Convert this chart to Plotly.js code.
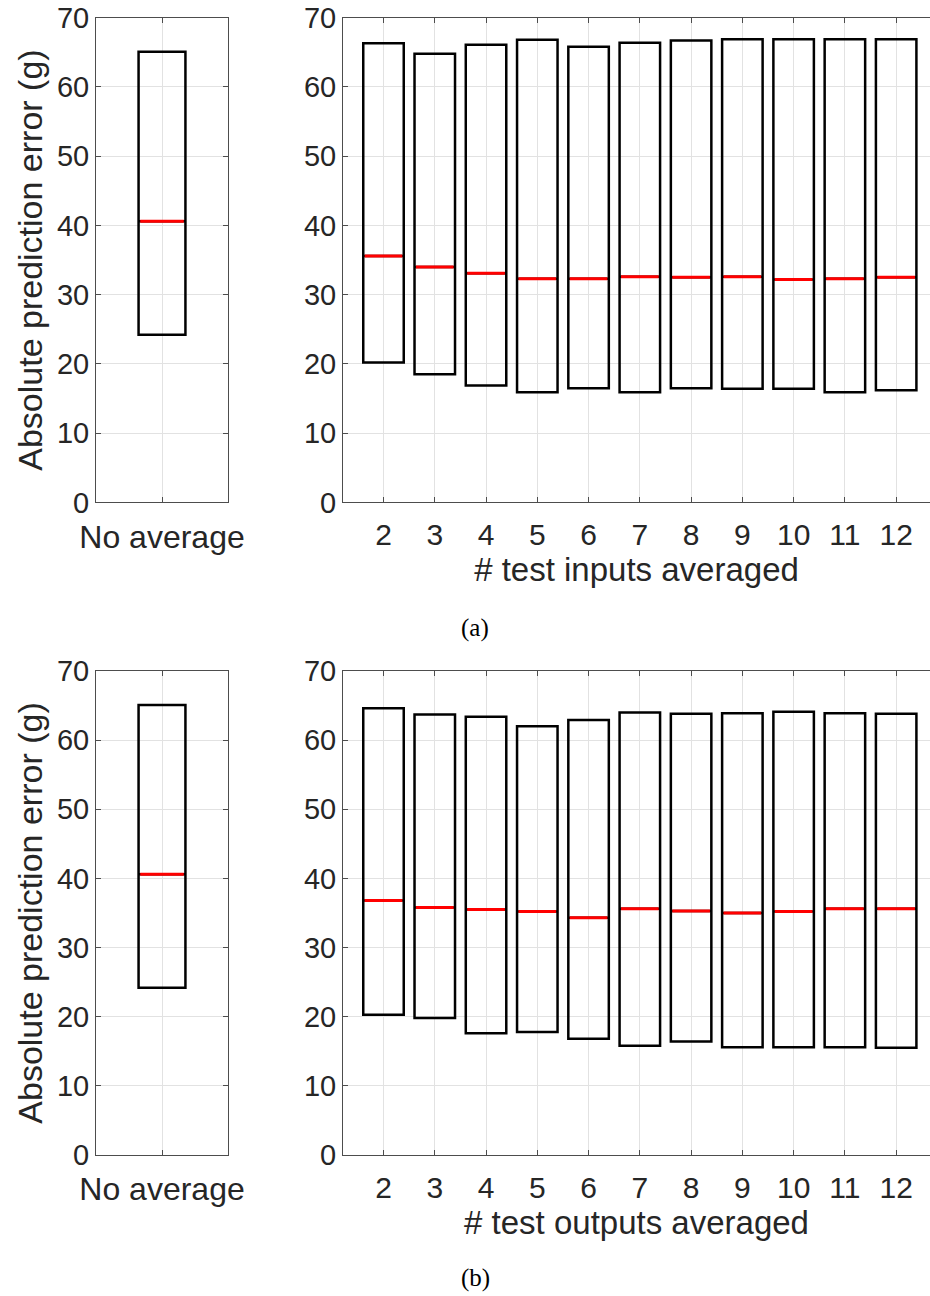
<!DOCTYPE html>
<html>
<head>
<meta charset="utf-8">
<script src="https://cdn.plot.ly/plotly-3.0.1.min.js"></script>
<style>
  html, body { margin: 0; padding: 0; background: #ffffff; }
  #chart { width: 930px; height: 1296px; }
</style>
</head>
<body>
<div id="chart"></div>
<script>
// Absolute prediction error (g): quartile boxes with medians.

// Baseline: no averaging
const noAvgLabel = ['No average'];
const noAvgQ1 = [24.2];
const noAvgMedian = [40.6];
const noAvgQ3 = [65.1];

// Number of samples averaged
const avgCounts = [2, 3, 4, 5, 6, 7, 8, 9, 10, 11, 12];
const avgTicks = ['2', '3', '4', '5', '6', '7', '8', '9', '10', '11', '12'];

// (a) averaging test inputs
const inputsQ1 = [20.2, 18.5, 16.9, 15.9, 16.5, 15.9, 16.5, 16.4, 16.4, 15.9, 16.2];
const inputsMedian = [35.6, 34.0, 33.1, 32.3, 32.3, 32.6, 32.5, 32.6, 32.2, 32.3, 32.5];
const inputsQ3 = [66.3, 64.8, 66.1, 66.8, 65.8, 66.4, 66.7, 66.9, 66.9, 66.9, 66.9];

// (b) averaging test outputs
const outputsQ1 = [20.3, 19.8, 17.6, 17.8, 16.8, 15.8, 16.4, 15.6, 15.6, 15.6, 15.5];
const outputsMedian = [36.8, 35.8, 35.5, 35.2, 34.3, 35.6, 35.3, 35.0, 35.2, 35.6, 35.6];
const outputsQ3 = [64.6, 63.7, 63.4, 62.0, 62.9, 64.0, 63.8, 63.9, 64.1, 63.9, 63.8];

const yTicks = [0, 10, 20, 30, 40, 50, 60, 70];

const FONT = 'Liberation Sans, Arial, Helvetica, sans-serif';
const TEXT = '#262626';
const AXIS = '#4d4d4d';
const GRID = '#e2e2e2';

// Box from q1 to q3 with no whiskers, plus a red median bar on top.
function boxPair(x, q1, med, q3, xa, ya, w) {
  const box = {
    type: 'box', x: x, q1: q1, median: med, q3: q3,
    lowerfence: q1, upperfence: q3,
    xaxis: xa, yaxis: ya, width: w, whiskerwidth: 0,
    boxpoints: false, showlegend: false, hoverinfo: 'skip',
    line: { color: '#000000', width: 2.5 },
    fillcolor: 'rgba(0,0,0,0)'
  };
  const medianBar = {
    type: 'box', x: x, q1: med, median: med, q3: med,
    lowerfence: med, upperfence: med,
    xaxis: xa, yaxis: ya, width: w * 0.93, whiskerwidth: 0,
    boxpoints: false, showlegend: false, hoverinfo: 'skip',
    line: { color: '#ff0000', width: 3 },
    fillcolor: 'rgba(0,0,0,0)'
  };
  return [box, medianBar];
}

function yAxis(domain, anchor, withTitle, mirror) {
  const ax = {
    domain: domain, anchor: anchor, range: [0, 70],
    tickmode: 'array', tickvals: yTicks, ticktext: yTicks.map(String),
    ticks: 'inside', ticklen: 5, tickcolor: AXIS, tickwidth: 1,
    showline: true, linecolor: AXIS, linewidth: 1,
    mirror: mirror ? 'ticks' : false,
    showgrid: true, gridcolor: GRID, gridwidth: 1, zeroline: false,
    tickfont: { family: FONT, size: 29, color: TEXT },
    ticklabelstandoff: 0,
    fixedrange: true
  };
  if (withTitle) {
    ax.title = { text: 'Absolute prediction error (g)', font: { family: FONT, size: 34, color: TEXT }, standoff: 4 };
  }
  return ax;
}

function leftXAxis(domain, anchor) {
  return {
    domain: domain, anchor: anchor, type: 'category', range: [-0.5, 0.5],
    ticks: 'inside', ticklen: 5, tickcolor: AXIS,
    showline: true, linecolor: AXIS, linewidth: 1, mirror: 'ticks',
    showgrid: true, gridcolor: GRID, zeroline: false,
    tickfont: { family: FONT, size: 32, color: TEXT },
    ticklabelstandoff: 6,
    fixedrange: true
  };
}

function rightXAxis(domain, anchor, titleText) {
  return {
    domain: domain, anchor: anchor, range: [1.21, 12.66],
    tickmode: 'array', tickvals: avgCounts, ticktext: avgTicks,
    ticks: 'inside', ticklen: 5, tickcolor: AXIS,
    showline: true, linecolor: AXIS, linewidth: 1, mirror: 'ticks',
    showgrid: true, gridcolor: GRID, zeroline: false,
    tickfont: { family: FONT, size: 30, color: TEXT },
    ticklabelstandoff: 6,
    title: { text: titleText, font: { family: FONT, size: 33, color: TEXT }, standoff: 6 },
    fixedrange: true
  };
}

const leftDom = [96 / 930, 228 / 930];
const rightDom = [343 / 930, 1];
const topDom = [1 - 502.4 / 1296, 1 - 17.7 / 1296];
const botDom = [1 - 1155 / 1296, 1 - 671 / 1296];

const data = [].concat(
  boxPair(noAvgLabel, noAvgQ1, noAvgMedian, noAvgQ3, 'x', 'y', 0.355),
  boxPair(avgCounts, inputsQ1, inputsMedian, inputsQ3, 'x2', 'y2', 0.79),
  boxPair(noAvgLabel, noAvgQ1, noAvgMedian, noAvgQ3, 'x3', 'y3', 0.355),
  boxPair(avgCounts, outputsQ1, outputsMedian, outputsQ3, 'x4', 'y4', 0.79)
);

const layout = {
  width: 930, height: 1296,
  margin: { l: 0, r: 0, t: 0, b: 0 },
  paper_bgcolor: '#ffffff', plot_bgcolor: '#ffffff',
  showlegend: false, boxmode: 'overlay',
  xaxis: leftXAxis(leftDom, 'y'),
  yaxis: yAxis(topDom, 'x', true, true),
  xaxis2: rightXAxis(rightDom, 'y2', '# test inputs averaged'),
  yaxis2: yAxis(topDom, 'x2', false, false),
  xaxis3: leftXAxis(leftDom, 'y3'),
  yaxis3: yAxis(botDom, 'x3', true, true),
  xaxis4: rightXAxis(rightDom, 'y4', '# test outputs averaged'),
  yaxis4: yAxis(botDom, 'x4', false, false),
  annotations: [
    { text: '(a)', xref: 'paper', yref: 'paper', x: 475 / 930, y: 1 - 628 / 1296,
      showarrow: false, xanchor: 'center', yanchor: 'middle',
      font: { family: 'Liberation Serif, DejaVu Serif, serif', size: 25, color: '#000000' } },
    { text: '(b)', xref: 'paper', yref: 'paper', x: 475 / 930, y: 1 - 1278 / 1296,
      showarrow: false, xanchor: 'center', yanchor: 'middle',
      font: { family: 'Liberation Serif, DejaVu Serif, serif', size: 25, color: '#000000' } }
  ]
};

Plotly.newPlot('chart', data, layout, { staticPlot: true, displayModeBar: false });
</script>
</body>
</html>
